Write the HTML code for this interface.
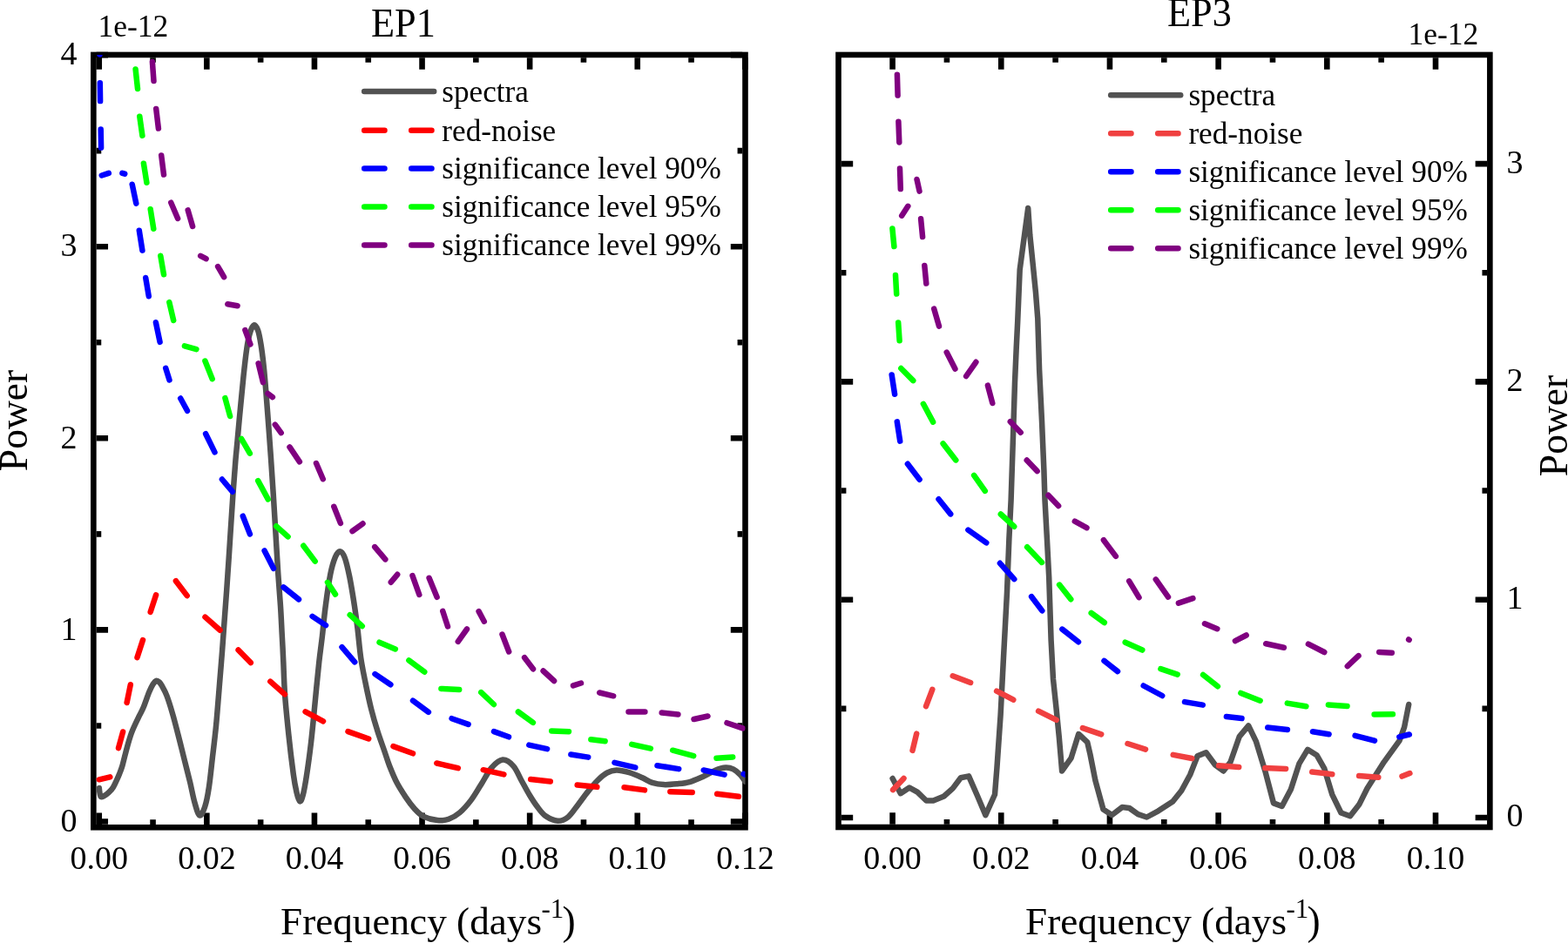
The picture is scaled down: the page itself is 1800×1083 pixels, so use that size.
<!DOCTYPE html><html><head><meta charset="utf-8"><title>EP1 EP3 power spectra</title><style>html,body{margin:0;padding:0;background:#fff;overflow:hidden}svg{display:block}text{font-family:"Liberation Serif","Times New Roman",serif}</style></head><body>
<svg width="1800" height="1083" viewBox="0 0 1800 1083">
<rect width="1800" height="1083" fill="#fff"/>
<path d="M113.75 946.95L113.75 933.55 M113.75 66.25L113.75 79.65 M237.35 946.95L237.35 933.55 M237.35 66.25L237.35 79.65 M360.95 946.95L360.95 933.55 M360.95 66.25L360.95 79.65 M484.55 946.95L484.55 933.55 M484.55 66.25L484.55 79.65 M608.15 946.95L608.15 933.55 M608.15 66.25L608.15 79.65 M731.75 946.95L731.75 933.55 M731.75 66.25L731.75 79.65 M855.35 946.95L855.35 933.55 M855.35 66.25L855.35 79.65 M175.55 946.95L175.55 941.35 M175.55 66.25L175.55 71.85 M299.15 946.95L299.15 941.35 M299.15 66.25L299.15 71.85 M422.75 946.95L422.75 941.35 M422.75 66.25L422.75 71.85 M546.35 946.95L546.35 941.35 M546.35 66.25L546.35 71.85 M669.95 946.95L669.95 941.35 M669.95 66.25L669.95 71.85 M793.55 946.95L793.55 941.35 M793.55 66.25L793.55 71.85 M110.65 943.50L124.05 943.50 M852.20 943.50L838.80 943.50 M110.65 723.40L124.05 723.40 M852.20 723.40L838.80 723.40 M110.65 503.30L124.05 503.30 M852.20 503.30L838.80 503.30 M110.65 283.20L124.05 283.20 M852.20 283.20L838.80 283.20 M110.65 63.10L124.05 63.10 M852.20 63.10L838.80 63.10 M110.65 833.45L116.25 833.45 M852.20 833.45L846.60 833.45 M110.65 613.35L116.25 613.35 M852.20 613.35L846.60 613.35 M110.65 393.25L116.25 393.25 M852.20 393.25L846.60 393.25 M110.65 173.15L116.25 173.15 M852.20 173.15L846.60 173.15" stroke="#000" stroke-width="6.60" fill="none" stroke-linecap="butt"/>
<rect x="107.35" y="62.95" width="748.15" height="887.30" fill="none" stroke="#000" stroke-width="6.60"/>
<path d="M1024.60 946.70L1024.60 933.30 M1024.60 66.25L1024.60 79.65 M1149.28 946.70L1149.28 933.30 M1149.28 66.25L1149.28 79.65 M1273.96 946.70L1273.96 933.30 M1273.96 66.25L1273.96 79.65 M1398.64 946.70L1398.64 933.30 M1398.64 66.25L1398.64 79.65 M1523.32 946.70L1523.32 933.30 M1523.32 66.25L1523.32 79.65 M1648.00 946.70L1648.00 933.30 M1648.00 66.25L1648.00 79.65 M1086.94 946.70L1086.94 941.10 M1086.94 66.25L1086.94 71.85 M1211.62 946.70L1211.62 941.10 M1211.62 66.25L1211.62 71.85 M1336.30 946.70L1336.30 941.10 M1336.30 66.25L1336.30 71.85 M1460.98 946.70L1460.98 941.10 M1460.98 66.25L1460.98 71.85 M1585.66 946.70L1585.66 941.10 M1585.66 66.25L1585.66 71.85 M965.80 939.00L979.20 939.00 M1707.05 939.00L1693.65 939.00 M965.80 688.70L979.20 688.70 M1707.05 688.70L1693.65 688.70 M965.80 438.40L979.20 438.40 M1707.05 438.40L1693.65 438.40 M965.80 188.10L979.20 188.10 M1707.05 188.10L1693.65 188.10 M965.80 813.85L971.40 813.85 M1707.05 813.85L1701.45 813.85 M965.80 563.55L971.40 563.55 M1707.05 563.55L1701.45 563.55 M965.80 313.25L971.40 313.25 M1707.05 313.25L1701.45 313.25" stroke="#000" stroke-width="6.60" fill="none" stroke-linecap="butt"/>
<rect x="962.50" y="62.95" width="747.85" height="887.05" fill="none" stroke="#000" stroke-width="6.60"/>
<defs><clipPath id="cL"><rect x="107.35" y="62.95" width="748.15" height="887.3"/></clipPath><clipPath id="cR"><rect x="962.5" y="62.95" width="747.85" height="887.05"/></clipPath></defs><g clip-path="url(#cL)"><path d="M113.8 905.1C114.0 906.7 114.6 913.0 115.5 914.5C116.4 916.0 117.7 915.0 119.2 914.3C120.8 913.6 123.0 911.9 124.8 910.2C126.6 908.5 128.4 906.6 129.9 904.2C131.4 901.8 132.8 898.5 134.0 895.9C135.2 893.3 136.1 891.3 137.2 888.5C138.3 885.7 139.3 883.2 140.5 879.2C141.7 875.2 142.6 870.5 144.3 864.3C146.0 858.1 148.3 849.0 150.8 842.2C153.3 835.4 156.8 828.6 159.1 823.7C161.4 818.8 162.6 817.4 164.6 812.6C166.6 807.8 169.3 799.5 171.1 795.1C172.9 790.7 174.1 788.2 175.5 786.0C176.9 783.8 178.2 782.2 179.4 781.8C180.7 781.4 181.9 782.5 183.0 783.5C184.1 784.5 184.5 785.2 185.9 787.7C187.3 790.2 189.4 793.6 191.4 798.8C193.4 804.0 195.8 811.7 197.9 819.1C200.1 826.5 202.2 834.8 204.3 843.1C206.5 851.4 208.5 859.8 210.8 869.0C213.1 878.2 216.0 889.6 218.2 898.5C220.3 907.4 221.8 916.2 223.7 922.5C225.5 928.8 227.4 935.8 229.3 936.5C231.2 937.2 233.4 931.9 235.2 926.5C237.0 921.1 238.5 913.3 239.9 904.0C241.3 894.7 242.5 882.5 243.8 870.8C245.2 859.1 246.8 846.2 248.0 833.9C249.2 821.6 250.1 809.2 251.1 796.9C252.1 784.6 253.1 772.2 254.1 760.0C255.1 747.8 255.8 737.6 256.8 723.9C257.8 710.2 259.0 694.6 260.2 677.7C261.4 660.8 262.7 640.8 263.9 622.3C265.1 603.8 266.4 582.3 267.5 566.9C268.6 551.5 269.5 540.1 270.3 530.0C271.1 519.9 271.6 516.3 272.5 506.2C273.4 496.1 274.7 481.6 275.9 469.3C277.1 457.0 278.3 443.7 279.5 432.3C280.7 420.9 282.0 409.2 283.2 400.9C284.4 392.6 285.5 387.1 286.9 382.5C288.3 377.9 290.1 373.9 291.6 373.4C293.2 372.9 294.9 376.0 296.2 379.7C297.5 383.4 298.4 388.8 299.5 395.4C300.6 402.0 301.6 410.2 302.6 419.4C303.6 428.6 304.5 439.4 305.4 450.8C306.3 462.2 307.3 475.4 308.2 487.7C309.1 500.0 310.0 511.5 310.9 524.7C311.8 537.9 312.8 552.2 313.7 566.9C314.6 581.6 315.6 597.7 316.5 613.1C317.4 628.5 318.4 645.4 319.3 659.3C320.2 673.1 321.2 684.4 322.0 696.2C322.8 708.0 323.2 719.4 323.8 730.0C324.4 740.6 324.8 748.8 325.3 760.0C325.8 771.2 326.0 783.1 327.0 797.0C328.0 810.9 329.7 827.7 331.3 843.1C332.9 858.5 335.3 878.1 336.8 889.3C338.3 900.4 339.3 904.8 340.5 910.0C341.7 915.2 343.0 919.7 344.2 920.3C345.4 920.9 346.5 918.0 347.7 913.5C348.9 909.0 350.0 903.2 351.6 893.0C353.2 882.8 355.4 866.8 357.1 852.3C358.8 837.8 360.2 821.6 361.7 806.2C363.2 790.8 364.9 772.7 366.3 760.0C367.7 747.3 368.8 740.6 370.0 730.0C371.2 719.4 372.1 708.0 373.7 696.2C375.2 684.4 377.4 668.7 379.3 659.3C381.2 649.9 383.0 644.4 384.8 640.0C386.6 635.6 388.5 633.1 390.3 633.2C392.1 633.3 394.0 635.8 395.9 640.8C397.8 645.8 399.5 653.8 401.4 663.0C403.2 672.2 405.5 686.3 407.0 696.2C408.5 706.1 409.3 712.3 410.5 722.2C411.7 732.1 412.7 744.9 414.2 755.4C415.7 765.9 417.7 775.1 419.7 785.0C421.7 794.9 423.9 805.3 426.2 814.5C428.5 823.7 431.1 832.4 433.6 840.3C436.1 848.2 438.9 855.5 441.1 862.0C443.4 868.5 444.7 873.4 447.1 879.5C449.5 885.6 452.4 892.8 455.5 898.8C458.6 904.8 462.4 910.5 465.8 915.6C469.2 920.7 472.8 925.5 476.2 929.2C479.6 932.9 482.2 935.8 486.5 937.9C490.8 940.0 497.2 941.6 502.0 942.1C506.8 942.6 510.7 942.3 515.0 940.8C519.3 939.3 523.6 936.8 527.9 933.1C532.2 929.5 536.7 924.3 540.8 918.9C544.9 913.5 548.5 906.9 552.4 900.8C556.3 894.6 560.0 886.7 564.1 882.0C568.2 877.3 572.8 873.0 577.0 872.6C581.2 872.2 585.8 875.8 589.4 879.8C593.0 883.8 595.7 891.1 598.8 896.7C601.9 902.3 604.9 908.2 608.0 913.3C611.1 918.4 614.1 923.1 617.2 927.1C620.3 931.1 622.6 934.7 626.5 937.3C630.4 939.9 636.0 942.6 640.3 942.8C644.6 942.9 648.4 941.3 652.3 938.2C656.1 935.1 659.7 929.2 663.4 924.4C667.1 919.6 670.8 914.2 674.5 909.6C678.2 905.0 681.9 900.4 685.6 896.7C689.3 893.0 693.0 889.7 696.7 887.6C700.4 885.5 703.5 884.5 707.7 884.4C712.0 884.3 717.3 885.7 722.2 887.1C727.1 888.5 732.5 891.0 736.9 893.0C741.3 895.0 744.6 897.5 748.8 898.9C753.0 900.2 757.3 900.9 762.0 901.1C766.7 901.3 771.9 900.8 776.8 900.3C781.7 899.8 786.7 899.5 791.6 898.1C796.5 896.8 801.5 894.4 806.4 892.2C811.3 890.0 816.7 886.6 821.1 884.8C825.5 883.0 829.5 881.8 833.0 881.6C836.5 881.4 839.1 882.1 841.8 883.4C844.5 884.7 846.9 886.9 849.2 889.3C851.5 891.6 854.5 896.1 855.5 897.5" stroke="#525252" fill="none" stroke-width="6.5" stroke-linecap="round" stroke-linejoin="round"/><path d="M113.8 895.3L126.3 892.3M136.0 859.2L141.1 840.5M145.6 807.0L149.8 786.3M157.5 755.1L164.0 735.0M172.7 702.8L179.1 683.3M201.9 667.2L214.7 684.1M235.5 708.6L252.6 723.7M273.6 746.4L287.8 761.1M310.3 782.6L326.9 797.4M350.6 817.3L371.0 828.3M399.5 840.1L423.2 848.5M451.5 857.1L474.0 865.3M501.3 876.5L525.8 882.2M554.7 884.2L578.4 889.4M609.2 895.0L631.8 897.4M662.7 901.5L685.3 903.8M716.6 904.3L740.0 907.4M769.3 909.3L794.7 909.9M823.2 911.7L847.9 914.8" stroke="#ff0000" fill="none" stroke-width="6.5" stroke-linecap="round" stroke-linejoin="round"/><path d="M114.5 30.0L114.5 62.4M114.8 95.3L115.1 116.1M115.7 148.5L116.1 169.6M116.8 201.5L124.8 198.8M140.4 198.8L143.2 199.7M151.7 211.7L156.3 233.7M159.8 264.7L163.4 287.6M167.2 319.0L170.8 340.2M178.9 370.3L183.6 392.9M190.2 422.8L194.5 436.4M207.2 457.5L215.0 471.8M236.1 498.2L246.5 519.4M254.9 550.5L266.9 564.7M278.8 592.7L286.9 613.4M303.6 632.5L314.0 652.8M325.5 674.4L343.0 688.4M358.6 707.9L374.0 718.1M392.5 743.2L407.2 760.3M430.5 774.1L448.4 786.2M474.0 804.6L491.9 817.9M518.6 825.2L537.6 831.9M567.0 840.1L584.0 846.3M607.3 855.6L628.1 860.1M655.4 866.5L675.2 869.6M705.5 875.8L729.3 881.4M754.5 879.2L779.2 883.1M807.7 884.5L831.6 889.6M853.7 888.8L862.0 892.5" stroke="#0000ff" fill="none" stroke-width="6.5" stroke-linecap="round" stroke-linejoin="round"/><path d="M155.6 79.6L158.0 101.9M160.3 133.8L163.4 155.8M164.9 187.7L168.4 209.7M172.7 240.3L176.3 262.7M184.3 293.7L188.0 315.3M194.3 347.1L199.2 368.0M211.9 397.4L225.4 401.2M235.4 414.5L243.7 435.2M258.4 457.1L264.1 478.0M277.2 504.0L286.8 520.7M296.2 552.1L307.7 573.4M317.2 604.3L330.6 616.3M348.3 626.8L361.7 644.6M376.0 668.8L385.0 682.6M401.7 706.2L415.8 719.1M435.5 737.7L453.8 745.4M469.4 758.4L487.3 771.7M506.4 790.9L527.2 792.1M552.3 795.1L566.9 809.0M594.9 817.5L611.9 829.9M633.2 839.5L653.0 840.2M678.4 849.2L694.6 851.2M725.2 854.9L746.9 859.6M772.2 861.7L796.2 868.1M822.5 870.7L841.2 869.4" stroke="#00ff00" fill="none" stroke-width="6.5" stroke-linecap="round" stroke-linejoin="round"/><path d="M174.9 71.0L176.5 93.0M179.2 124.9L181.9 147.5M185.2 178.4L188.0 200.5M196.3 232.7L204.1 251.0M215.7 241.4L221.1 260.0M230.2 293.8L236.6 297.2M250.1 306.1L257.1 318.2M261.3 349.2L272.6 351.2M281.4 379.1L287.4 395.4M296.6 417.3L301.9 439.1M307.5 452.0L312.9 456.1M315.8 487.6L322.7 497.1M332.5 513.4L343.9 530.4M363.0 532.0L370.8 550.2M383.3 581.8L390.9 600.9M404.5 610.0L416.5 601.3M430.2 628.1L442.3 642.4M448.8 668.7L456.2 659.8M473.5 661.1L481.3 683.0M492.6 663.8L501.6 685.8M508.3 701.9L514.0 719.5M525.8 736.9L536.0 722.5M549.6 702.1L555.8 713.7M576.5 728.5L584.2 748.5M602.1 755.2L612.0 768.3M623.6 770.5L636.1 782.0M658.0 787.4L667.0 784.5M688.2 795.5L704.2 799.3M721.5 817.4L740.4 817.4M759.7 818.6L778.4 820.4M796.5 826.0L812.5 822.5M834.5 830.2L852.6 836.4" stroke="#800080" fill="none" stroke-width="6.5" stroke-linecap="round" stroke-linejoin="round"/></g><g clip-path="url(#cR)"><path d="M1024.6 894.0L1033.8 911.2L1044.0 904.6L1053.1 909.6L1063.3 919.5L1071.4 919.5L1083.6 914.5L1093.8 905.4L1102.9 893.2L1112.1 891.4L1121.8 913.5L1131.4 936.2L1142.0 912.5L1144.4 882.2L1148.6 821.3L1152.0 755.0L1156.0 680.0L1158.4 618.6L1160.6 574.3L1162.4 520.0L1165.0 439.1L1166.7 400.0L1168.2 369.3L1170.7 309.7L1176.5 266.5L1180.2 239.0L1182.3 269.9L1185.7 303.1L1189.0 336.3L1191.3 366.3L1193.1 424.3L1196.0 483.4L1198.4 540.0L1199.5 574.3L1201.9 618.6L1204.2 663.0L1206.6 735.4L1209.0 780.0L1212.5 813.2L1215.8 846.5L1219.1 885.4L1229.6 870.6L1238.2 843.0L1248.2 852.3L1251.5 866.5L1257.4 896.4L1266.5 929.6L1276.5 936.0L1288.1 927.1L1296.4 928.0L1306.4 935.2L1316.4 938.5L1329.7 931.3L1346.3 920.5L1356.3 908.0L1366.2 889.7L1374.6 868.3L1384.5 864.3L1394.8 878.3L1404.4 885.5L1412.5 875.3L1422.8 845.8L1433.2 833.4L1442.0 851.7L1452.4 885.7L1462.0 922.4L1471.6 926.0L1481.9 906.4L1491.5 876.8L1501.1 860.8L1511.5 867.2L1520.3 882.7L1529.2 912.3L1539.5 933.5L1549.9 937.2L1560.2 924.1L1569.6 905.2L1588.8 875.1L1606.5 850.7L1612.1 835.2L1617.2 809.0" stroke="#525252" fill="none" stroke-width="6.5" stroke-linecap="round" stroke-linejoin="round"/><path d="M1025.1 907.1L1037.5 893.9M1047.5 861.9L1052.2 842.6M1063.0 811.1L1070.3 791.8M1093.7 776.3L1114.1 784.0M1144.1 793.7L1163.3 803.7M1192.1 816.6L1212.7 826.8M1242.9 836.1L1264.2 843.3M1294.5 854.0L1315.0 860.6M1346.7 866.9L1368.3 871.0M1399.1 879.2L1422.2 881.0M1452.3 882.1L1476.1 882.9M1506.2 886.6L1529.3 889.2M1560.1 891.0L1582.3 892.7M1609.5 891.6L1618.4 888.1" stroke="#f04040" fill="none" stroke-width="6.5" stroke-linecap="round" stroke-linejoin="round"/><path d="M1023.7 430.5L1027.1 452.8M1029.8 484.4L1033.2 506.6M1041.9 532.8L1055.6 550.7M1077.5 573.3L1091.2 590.4M1111.4 608.6L1132.3 623.3M1147.9 646.8L1164.3 665.1M1184.1 685.2L1196.3 701.4M1219.4 722.6L1238.0 737.3M1267.5 758.9L1283.0 771.1M1312.7 787.5L1334.2 799.0M1360.0 806.1L1380.8 809.6M1407.9 823.1L1425.5 825.1M1455.3 835.4L1477.9 838.0M1506.9 840.2L1525.6 843.3M1555.6 844.8L1578.0 850.7M1606.3 846.3L1617.8 843.5" stroke="#0000ff" fill="none" stroke-width="6.5" stroke-linecap="round" stroke-linejoin="round"/><path d="M1024.4 262.4L1026.4 283.1M1028.0 316.0L1029.2 337.6M1031.2 370.4L1032.6 391.2M1034.3 423.0L1048.3 437.1M1059.9 463.8L1071.1 484.6M1082.6 509.4L1097.3 528.4M1118.1 545.9L1130.8 563.9M1148.8 590.5L1164.2 604.7M1179.1 628.3L1196.0 645.9M1216.1 671.6L1229.3 688.2M1252.7 704.0L1267.8 715.0M1291.7 737.7L1311.3 746.5M1332.4 768.2L1351.7 774.6M1381.1 775.0L1397.9 788.3M1424.4 795.9L1446.6 804.7M1477.8 807.6L1499.4 811.3M1524.9 809.4L1546.5 810.9M1577.6 820.5L1598.9 820.2" stroke="#00ff00" fill="none" stroke-width="6.5" stroke-linecap="round" stroke-linejoin="round"/><path d="M1029.9 85.7L1030.6 109.6M1031.4 139.7L1032.3 163.5M1033.0 193.6L1033.8 217.1M1035.2 247.7L1042.3 236.8M1052.5 206.0L1055.5 219.6M1057.1 251.3L1059.1 272.1M1061.3 304.9L1063.3 325.6M1072.2 354.6L1078.0 374.7M1086.7 404.6L1096.4 423.6M1109.1 432.0L1120.4 415.8M1133.9 442.6L1139.3 463.0M1159.8 484.2L1171.7 496.7M1178.7 528.5L1190.6 541.1M1203.4 568.8L1215.1 581.0M1233.8 598.7L1247.5 606.1M1266.9 620.2L1280.9 638.9M1296.2 667.4L1307.5 686.2M1326.8 665.4L1341.0 685.6M1352.9 692.6L1369.4 687.1M1383.0 716.3L1397.3 722.2M1417.9 736.1L1430.7 729.5M1453.2 739.3L1473.9 743.8M1501.9 739.7L1520.3 749.0M1546.8 765.1L1559.5 753.1M1583.2 748.9L1597.8 749.8M1617.1 734.5L1617.7 734.8" stroke="#800080" fill="none" stroke-width="6.5" stroke-linecap="round" stroke-linejoin="round"/></g>
<text x="88.6" y="954.7" font-size="38" text-anchor="end">0</text>
<text x="88.6" y="734.6" font-size="38" text-anchor="end">1</text>
<text x="88.6" y="514.5" font-size="38" text-anchor="end">2</text>
<text x="88.6" y="294.4" font-size="38" text-anchor="end">3</text>
<text x="88.6" y="74.3" font-size="38" text-anchor="end">4</text>
<text x="113.8" y="997.5" font-size="38" text-anchor="middle">0.00</text>
<text x="237.4" y="997.5" font-size="38" text-anchor="middle">0.02</text>
<text x="361.0" y="997.5" font-size="38" text-anchor="middle">0.04</text>
<text x="484.6" y="997.5" font-size="38" text-anchor="middle">0.06</text>
<text x="608.2" y="997.5" font-size="38" text-anchor="middle">0.08</text>
<text x="731.8" y="997.5" font-size="38" text-anchor="middle">0.10</text>
<text x="855.4" y="997.5" font-size="38" text-anchor="middle">0.12</text>
<text x="1729.4" y="949.4" font-size="38">0</text>
<text x="1729.4" y="699.1" font-size="38">1</text>
<text x="1729.4" y="448.8" font-size="38">2</text>
<text x="1729.4" y="198.5" font-size="38">3</text>
<text x="1024.6" y="997.5" font-size="38" text-anchor="middle">0.00</text>
<text x="1149.3" y="997.5" font-size="38" text-anchor="middle">0.02</text>
<text x="1274.0" y="997.5" font-size="38" text-anchor="middle">0.04</text>
<text x="1398.6" y="997.5" font-size="38" text-anchor="middle">0.06</text>
<text x="1523.3" y="997.5" font-size="38" text-anchor="middle">0.08</text>
<text x="1648.0" y="997.5" font-size="38" text-anchor="middle">0.10</text>
<text x="112.5" y="42" font-size="35.5">1e-12</text>
<text x="1616.4" y="50.6" font-size="35.5">1e-12</text>
<text x="426.0" y="42" font-size="45.5" textLength="73.8" lengthAdjust="spacingAndGlyphs">EP1</text>
<text x="1340.0" y="30" font-size="45.5" textLength="73.8" lengthAdjust="spacingAndGlyphs">EP3</text>
<text transform="translate(31,483) rotate(-90)" font-size="45.5" text-anchor="middle">Power</text>
<text transform="translate(1799,489) rotate(-90)" font-size="45.5" text-anchor="middle">Power</text>
<text x="322" y="1073" font-size="44.6" textLength="300" lengthAdjust="spacingAndGlyphs">Frequency (days</text>
<text x="621.5" y="1054.2" font-size="31">-1</text>
<text x="645.6" y="1073" font-size="45.5">)</text>
<text x="1177" y="1073" font-size="44.6" textLength="300" lengthAdjust="spacingAndGlyphs">Frequency (days</text>
<text x="1476.5" y="1054.2" font-size="31">-1</text>
<text x="1500.6" y="1073" font-size="45.5">)</text>
<path d="M418.2 105.0H498.2" stroke="#525252" stroke-width="6.5" stroke-linecap="round"/>
<text x="507.3" y="116.8" font-size="35.2">spectra</text>
<path d="M418.2 149.7H441.5M472.2 149.7H495.5" stroke="#f00" stroke-width="6.5" stroke-linecap="round"/>
<text x="507.3" y="161.5" font-size="35.2">red-noise</text>
<path d="M418.2 193.4H441.5M472.2 193.4H495.5" stroke="#00f" stroke-width="6.5" stroke-linecap="round"/>
<text x="507.3" y="205.2" font-size="35.2">significance level 90%</text>
<path d="M418.2 237.4H441.5M472.2 237.4H495.5" stroke="#0f0" stroke-width="6.5" stroke-linecap="round"/>
<text x="507.3" y="249.2" font-size="35.2">significance level 95%</text>
<path d="M418.2 281.4H441.5M472.2 281.4H495.5" stroke="#800080" stroke-width="6.5" stroke-linecap="round"/>
<text x="507.3" y="293.2" font-size="35.2">significance level 99%</text>
<path d="M1275.2 109.2H1355.2" stroke="#525252" stroke-width="6.5" stroke-linecap="round"/>
<text x="1364.4" y="121.0" font-size="35.2">spectra</text>
<path d="M1275.2 153.2H1298.5M1329.2 153.2H1352.5" stroke="#f04040" stroke-width="6.5" stroke-linecap="round"/>
<text x="1364.4" y="165.0" font-size="35.2">red-noise</text>
<path d="M1275.2 197.2H1298.5M1329.2 197.2H1352.5" stroke="#00f" stroke-width="6.5" stroke-linecap="round"/>
<text x="1364.4" y="209.0" font-size="35.2">significance level 90%</text>
<path d="M1275.2 241.2H1298.5M1329.2 241.2H1352.5" stroke="#0f0" stroke-width="6.5" stroke-linecap="round"/>
<text x="1364.4" y="253.0" font-size="35.2">significance level 95%</text>
<path d="M1275.2 285.2H1298.5M1329.2 285.2H1352.5" stroke="#800080" stroke-width="6.5" stroke-linecap="round"/>
<text x="1364.4" y="297.0" font-size="35.2">significance level 99%</text>
</svg></body></html>
